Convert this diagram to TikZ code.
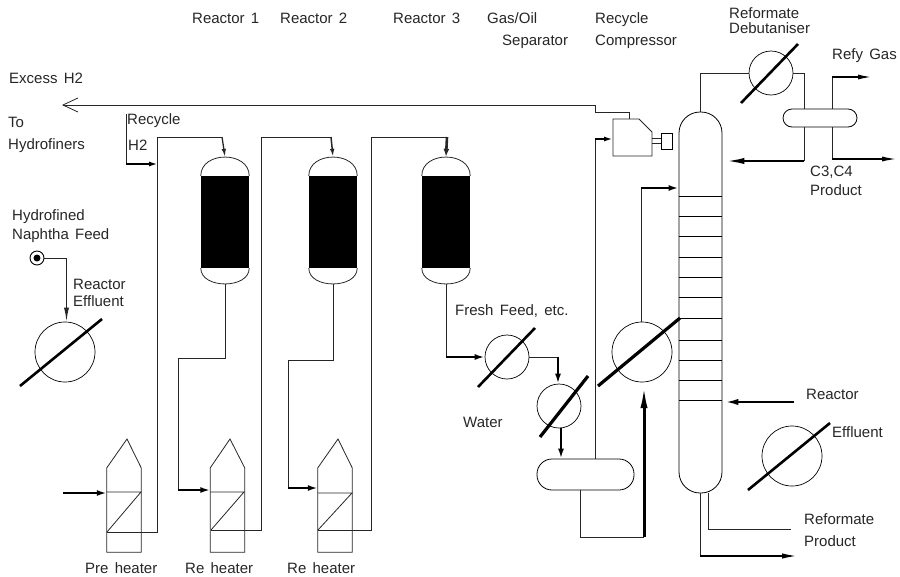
\documentclass[tikz,border=0pt]{standalone}
\usepackage{fontspec}
\setmainfont{Liberation Sans}[WordSpace=1.5]
\usetikzlibrary{arrows.meta, calc}

\begin{document}
\begin{tikzpicture}[
    x=1pt, y=-1pt,
    pipe/.style={line width=0.8pt, black!85},
    flow/.style={pipe, -{Latex[length=8pt, width=4.5pt]}},
    hot/.style={line width=2.6pt, -{Latex[length=10pt, width=6pt]}},
    lbl/.style={anchor=base west, inner sep=0pt, text=black!85, font=\fontsize{15}{17}\selectfont},
    exch/.style={draw, circle, inner sep=0pt, line width=0.7pt},
    slash/.style={line width=2.6pt},
    vessel/.style={draw, line width=0.8pt, inner sep=0pt},
    bed/.style={fill=black, inner sep=0pt, minimum width=48pt, minimum height=92pt},
    heater/.style={inner sep=0pt, minimum width=34pt, minimum height=84pt},
    tray/.style={line width=0.7pt}
]
    \useasboundingbox (0,0) rectangle (900,576);

    \node[bed] (bed1) at (225,222) {};
    \node[bed] (bed2) at (333,222) {};
    \node[bed] (bed3) at (446,222) {};
    \foreach \n in {1,2,3} {
        \coordinate (top\n) at ($(bed\n.north)+(0,-19)$);
        \coordinate (bot\n) at ($(bed\n.south)+(0,16)$);
        \draw[pipe] (bed\n.north west) .. controls +(0,-25) and +(0,-25) .. (bed\n.north east);
        \draw[pipe] (bed\n.south west) .. controls +(0,21) and +(0,21) .. (bed\n.south east);
    }

    \node[heater] (htr1) at (124,510) {};
    \node[heater] (htr2) at (227.5,510) {};
    \node[heater] (htr3) at (335,510) {};
    \coordinate (peak1) at (127,439);
    \coordinate (peak2) at (230,439);
    \coordinate (peak3) at (338,439);
    \coordinate (low1) at (107,532);
    \coordinate (low2) at (211,530);
    \coordinate (low3) at (318,530);
    \coordinate (high1) at (141,492);
    \coordinate (high2) at (244,492);
    \coordinate (high3) at (352,493);
    \foreach \n in {1,2,3} {
        \draw[pipe] (htr\n.north west) -- (peak\n) -- (htr\n.north east) -- (htr\n.south east) -- (htr\n.south west) -- cycle;
        \draw[pipe] (htr\n.west |- high\n) -- (high\n) -- (low\n);
    }
    \draw[pipe] (low1) -- (htr1.east |- low1);
    \draw[pipe] (low2) -- (htr2.east |- low2);
    \draw[pipe] (low3) -- (htr3.east |- low3);

    \node[vessel, rounded corners=21pt, minimum width=43pt, minimum height=381pt] (column) at (700.5,302.5) {};
    \foreach \t in {196,216,236,257,277,297,318,340,360,380,400}
        \draw[tray] (column.west |- 0,\t) -- (column.east |- 0,\t);

    \node[vessel, rounded corners=15pt, minimum width=97pt, minimum height=31pt] (sep) at (585.5,474.5) {};
    \node[vessel, rounded corners=9pt, minimum width=74pt, minimum height=18pt] (drum) at (820,118) {};

    \node[exch, minimum size=60pt] (feedx) at (65,352) {};
    \node[exch, minimum size=44pt] (freshx) at (507,357) {};
    \node[exch, minimum size=44pt] (waterx) at (559,406) {};
    \node[exch, minimum size=60pt] (bigx) at (642,352) {};
    \node[exch, minimum size=44pt] (debx) at (771,73) {};
    \node[exch, minimum size=60pt] (rebx) at (792,456) {};
    \draw[slash] (20,386) -- (102,319);
    \draw[slash] (478,387) -- (535,328);
    \draw[slash, line width=3.2pt] (540,437) -- (588,376);
    \draw[slash, line width=3.2pt] (598,386) -- (680,318);
    \draw[slash] (741,103) -- (798,44);
    \draw[slash] (748,490) -- (830,423);

    \node[circle, draw, line width=0.9pt, minimum size=14pt, inner sep=0pt] (feed) at (37,258) {};
    \node[circle, fill=black, minimum size=7pt, inner sep=0pt] (feeddot) at (feed.center) {};

    \node[vessel, minimum width=11pt, minimum height=16pt] (motor) at (666.5,141) {};
    \coordinate (cin) at (613,139);
    \coordinate (ctop) at (629,119);
    \draw[pipe] (613,119) -- (639,119) -- (652,132) -- (652,156) -- (613,156) -- cycle;
    \draw[pipe] (652,138.5) -- (motor.west |- 0,138.5);
    \draw[pipe] (652,143.5) -- (motor.west |- 0,143.5);

    \coordinate (excess) at (62,105);
    \coordinate (stepa) at (595,105);
    \coordinate (stepb) at (595,112);
    \draw[pipe] (ctop) -- (ctop |- stepb) -- (stepb) -- (stepa);
    \draw[pipe, -{Straight Barb[length=15pt, width=14pt]}] (stepa) -- (excess);

    \coordinate (rec) at (126,114);
    \coordinate (recin) at (158,164);
    \draw[pipe] (rec) -- (rec |- recin);
    \draw[hot, -{Latex[length=9pt, width=5pt]}] (rec |- recin) -- (recin);

    \coordinate (in1) at (222,137);
    \coordinate (in2) at (331,137);
    \coordinate (in3) at (447,137);
    \draw[pipe] (htr1.east |- low1) -- (157,532) coordinate (riser1) -- (riser1 |- in1) -- (in1);
    \draw[pipe] (htr2.east |- low2) -- (261,530) coordinate (riser2) -- (riser2 |- in2) -- (in2);
    \draw[pipe] (htr3.east |- low3) -- (371,530) coordinate (riser3) -- (riser3 |- in3) -- (in3);
    \draw[flow, line width=1.3pt] (in1) -- (top1);
    \draw[flow, line width=1.5pt] (in2) -- (top2);
    \draw[flow, line width=2.6pt, -{Latex[length=8pt, width=6pt]}] (in3) -- (top3);

    \coordinate (lv1) at (178,358);
    \coordinate (lv2) at (288,360);
    \draw[pipe] (bot1) |- (lv1) -- (lv1 |- 0,490);
    \draw[pipe] (bot2) |- (lv2) -- (lv2 |- 0,488);
    \draw[hot] (lv1 |- 0,490) -- (htr2.west |- 0,490);
    \draw[hot] (lv2 |- 0,488) -- (htr3.west |- 0,488);
    \coordinate (firein) at (63,493);
    \draw[hot] (firein) -- (htr1.west |- firein);

    \coordinate (r3out) at (445,357);
    \draw[pipe] (bot3) -- (bot3 |- r3out);
    \draw[hot] (bot3 |- r3out) -- (freshx.west);
    \coordinate (fresh2) at (558,357);
    \draw[pipe] (freshx.east) -- (fresh2);
    \draw[hot] (fresh2) -- (waterx.north -| fresh2);
    \draw[hot, line width=2.8pt] (waterx.south -| 561,0) -- (sep.north -| 561,0);

    \coordinate (sepup) at (595,139);
    \draw[pipe] (sep.north -| sepup) -- (sepup);
    \draw[hot, -{Latex[length=9pt, width=5pt]}] (sepup) -- (cin);

    \coordinate (sepdn) at (580,537);
    \coordinate (sepin) at (644,537);
    \draw[pipe] (sep.south -| sepdn) -- (sepdn) -- (sepin);
    \draw[hot, line width=3pt, -{Latex[length=24pt, width=7pt]}] (sepin) -- (sepin |- 0,384);

    \coordinate (colin) at (641,188);
    \draw[pipe] (bigx.north -| colin) -- (colin);
    \draw[hot] (colin) -- (column.west |- colin);

    \coordinate (deba) at (700,73);
    \coordinate (debb) at (804,73);
    \coordinate (debc) at (804,161);
    \draw[pipe] (column.north -| deba) -- (deba) -- (debx.west);
    \draw[pipe] (debx.east) -- (debb) -- (debb |- drum.north);
    \draw[pipe] (debb |- drum.south) -- (debc);
    \draw[hot, -{Latex[length=22pt, width=6pt]}] (debc) -- (column.east |- debc);

    \coordinate (refy) at (832,77);
    \coordinate (refyend) at (872,77);
    \coordinate (lpg) at (832,159);
    \coordinate (lpgend) at (898,159);
    \draw[pipe] (drum.north -| refy) -- (refy);
    \draw[hot, line width=1.6pt, -{Latex[length=14pt, width=5pt]}] (refy) -- (refyend);
    \draw[pipe] (drum.south -| lpg) -- (lpg);
    \draw[hot, line width=1.8pt, -{Latex[length=16pt, width=5pt]}] (lpg) -- (lpgend);

    \coordinate (refin) at (794,402);
    \draw[hot, -{Latex[length=16pt, width=6pt]}] (refin) -- (column.east |- refin);

    \coordinate (prodb) at (700,556);
    \coordinate (prodend) at (808,556);
    \coordinate (prods) at (708,529);
    \coordinate (prodsend) at (791,529);
    \draw[pipe] (column.south -| prodb) -- (prodb);
    \draw[hot, -{Latex[length=26pt, width=5pt]}] (prodb) -- (prodend);
    \draw[pipe] (column.south -| prods) -- (prods) -- (prodsend);

    \coordinate (feedc) at (66.5,258);
    \draw[pipe] (feed) -- (feedc);
    \draw[flow, line width=1.2pt, -{Latex[length=14pt, width=5pt]}] (feedc) -- (feedx.north -| feedc);

    \node[lbl] (t1) at (192,23) {Reactor 1};
    \node[lbl] (t2) at (280,23) {Reactor 2};
    \node[lbl] (t3) at (393,23) {Reactor 3};
    \node[lbl] (t4) at (487,23) {Gas/Oil};
    \node[lbl] (t5) at (502,45) {Separator};
    \node[lbl] (t6) at (595,23) {Recycle};
    \node[lbl] (t7) at (595,45) {Compressor};
    \node[lbl] (t8) at (729,18) {Reformate};
    \node[lbl] (t9) at (729,33) {Debutaniser};
    \node[lbl] (t10) at (832,59) {Refy Gas};
    \node[lbl] (t11) at (810,176) {C3,C4};
    \node[lbl] (t12) at (810,195) {Product};
    \node[lbl] (t13) at (9,83) {Excess H2};
    \node[lbl] (t14) at (8,127) {To};
    \node[lbl] (t15) at (8,149) {Hydrofiners};
    \node[lbl] (t16) at (127,124) {Recycle};
    \node[lbl] (t17) at (128,150) {H2};
    \node[lbl] (t18) at (12,220) {Hydrofined};
    \node[lbl] (t19) at (12,239) {Naphtha Feed};
    \node[lbl] (t20) at (73,289) {Reactor};
    \node[lbl] (t21) at (73,306) {Effluent};
    \node[lbl] (t22) at (455,315) {Fresh Feed, etc.};
    \node[lbl] (t23) at (463,427) {Water};
    \node[lbl] (t24) at (806,399) {Reactor};
    \node[lbl] (t25) at (832,437) {Effluent};
    \node[lbl] (t26) at (804,524) {Reformate};
    \node[lbl] (t27) at (804,546) {Product};
    \node[lbl] (t28) at (85,573) {Pre heater};
    \node[lbl] (t29) at (185,573) {Re heater};
    \node[lbl] (t30) at (287,573) {Re heater};
\end{tikzpicture}
\end{document}
